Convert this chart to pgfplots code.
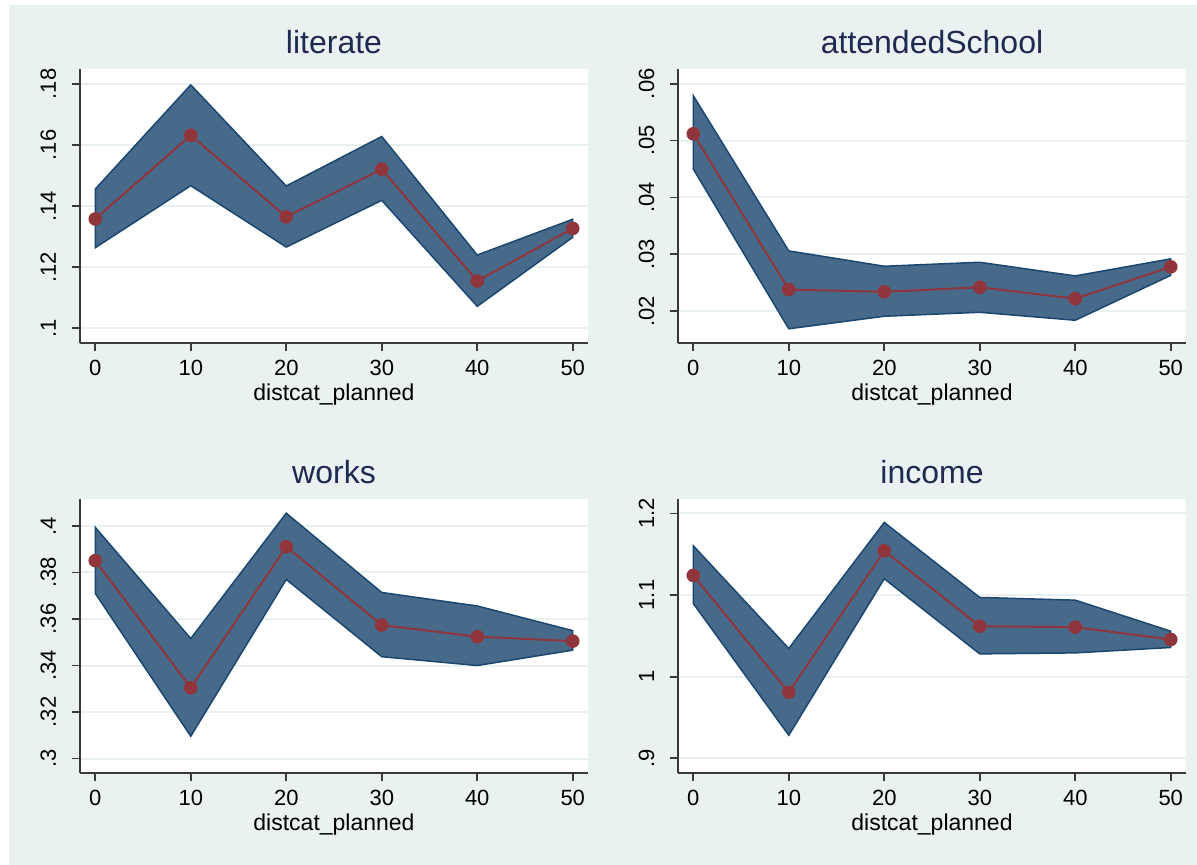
\documentclass[border=0pt]{standalone}
\usepackage{fontspec}
\setmainfont{Liberation Sans}
\usepackage{pgfplots}
\pgfplotsset{compat=1.18}
\definecolor{bgc}{HTML}{E9F1F1}
\definecolor{gridc}{HTML}{E8F0F1}
\definecolor{band}{HTML}{476A8B}
\definecolor{edge}{HTML}{1A476F}
\definecolor{maroonc}{HTML}{90353B}
\definecolor{titlec}{HTML}{1E2A50}
\definecolor{axisc}{HTML}{3A3A3A}
\pgfplotsset{
  stata/.style={
    scale only axis, width=254pt, height=137pt,
    xmin=-1.6, xmax=51.6,
    axis x line*=bottom, axis y line*=left,
    axis line style={draw=axisc, line width=0.85pt, -},
    axis background/.style={fill=white},
    xtick={0,10,20,30,40,50}, xticklabels={0,10,20,30,40,50},
    scaled y ticks=false,
    major tick length=4pt, tick align=outside,
    tick style={draw=axisc, line width=0.85pt},
    ymajorgrids, grid style={draw=gridc, line width=1pt},
    title style={font=\fontsize{16}{18}\selectfont, text=titlec, anchor=base, at={(0.5,1)}, yshift=1.5pt},
    ticklabel style={font=\fontsize{11}{13}\selectfont, text=black, inner sep=0pt},
    xticklabel style={anchor=base, yshift=-12.5pt},
    yticklabel style={xshift=-8pt, rotate=90, anchor=base},
    xlabel={distcat\_planned},
    xlabel style={font=\fontsize{11.5}{13}\selectfont, at={(axis description cs:0.5,0)}, anchor=base, yshift=-29pt},
    clip=false,
  },
  bandst/.style={fill=band, draw=edge, line width=0.75pt},
  meanst/.style={color=maroonc, line width=1pt, mark=*, mark size=2.9pt, mark options={fill=maroonc, draw=maroonc}},
}
\begin{document}
\begin{tikzpicture}
\path[use as bounding box] (0,0) rectangle (598.5pt,432.5pt);
\fill[bgc] (4.5pt,0) rectangle (598.5pt,430pt);
% literate
\begin{axis}[stata, at={(40pt,261pt)}, anchor=south west, title={literate},
  ymin=0.0952, ymax=0.1849, ytick={0.1,0.12,0.14,0.16,0.18}, yticklabels={.1,.12,.14,.16,.18}]
\addplot[bandst] coordinates {(0,0.1456) (10,0.1797) (20,0.1466) (30,0.1628) (40,0.1240) (50,0.1357)
 (50,0.1298) (40,0.1072) (30,0.1419) (20,0.1266) (10,0.1467) (0,0.1264)} -- cycle;
\addplot[meanst] coordinates {(0,0.1358) (10,0.1632) (20,0.1365) (30,0.1521) (40,0.1155) (50,0.1327)};
\end{axis}
% attendedSchool
\begin{axis}[stata, at={(339pt,261pt)}, anchor=south west, title={attendedSchool},
  ymin=0.0144, ymax=0.0626, ytick={0.02,0.03,0.04,0.05,0.06}, yticklabels={.02,.03,.04,.05,.06}]
\addplot[bandst] coordinates {(0,0.0579) (10,0.0306) (20,0.0279) (30,0.0286) (40,0.0262) (50,0.0292)
 (50,0.0263) (40,0.0184) (30,0.0198) (20,0.0191) (10,0.0169) (0,0.0450)} -- cycle;
\addplot[meanst] coordinates {(0,0.0512) (10,0.0238) (20,0.0234) (30,0.0242) (40,0.0222) (50,0.0278)};
\end{axis}
% works
\begin{axis}[stata, at={(40pt,46pt)}, anchor=south west, title={works},
  ymin=0.2938, ymax=0.4116, ytick={0.3,0.32,0.34,0.36,0.38,0.4}, yticklabels={.3,.32,.34,.36,.38,.4}]
\addplot[bandst] coordinates {(0,0.3994) (10,0.3516) (20,0.4055) (30,0.3714) (40,0.3656) (50,0.3550)
 (50,0.3466) (40,0.3400) (30,0.3438) (20,0.3770) (10,0.3096) (0,0.3710)} -- cycle;
\addplot[meanst] coordinates {(0,0.3851) (10,0.3304) (20,0.3911) (30,0.3574) (40,0.3524) (50,0.3505)};
\end{axis}
% income
\begin{axis}[stata, at={(339pt,46pt)}, anchor=south west, title={income},
  ymin=0.882, ymax=1.2176, ytick={0.9,1.0,1.1,1.2}, yticklabels={.9,1,1.1,1.2}]
\addplot[bandst] coordinates {(0,1.1603) (10,1.0345) (20,1.1889) (30,1.0970) (40,1.0937) (50,1.0557)
 (50,1.0357) (40,1.0291) (30,1.0279) (20,1.1199) (10,0.9282) (0,1.0896)} -- cycle;
\addplot[meanst] coordinates {(0,1.1240) (10,0.9809) (20,1.1542) (30,1.0618) (40,1.0606) (50,1.0455)};
\end{axis}
\end{tikzpicture}
\end{document}
